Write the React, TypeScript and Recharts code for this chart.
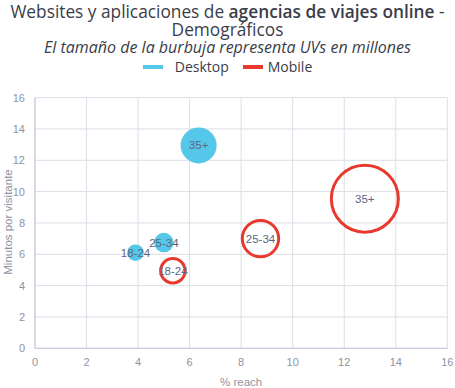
import {
  CartesianGrid,
  Label,
  LabelList,
  Scatter,
  ScatterChart,
  XAxis,
  YAxis,
  ZAxis,
} from "recharts";

const ageGroups = ["18-24", "25-34", "35+"];

const desktopReach = [3.9, 5.0, 6.35];
const desktopMinutes = [6.1, 6.75, 12.95];
const desktopUVs = [0.6, 0.83, 2.82];

const mobileReach = [5.35, 8.75, 12.8];
const mobileMinutes = [4.95, 7.0, 9.55];
const mobileUVs = [1.3, 2.88, 9.76];

const axisTicks = [0, 2, 4, 6, 8, 10, 12, 14, 16];

const DESKTOP = "#55c8ea";
const MOBILE = "#e8392e";
const TICK = { fill: "#8f93a3", fontSize: 11, fontFamily: "Liberation Sans" };
const LABEL_STYLE = { fill: "#5c6680", fontSize: 11.5, fontFamily: "Liberation Sans" };

const desktop = ageGroups.map((age, i) => ({
  age,
  reach: desktopReach[i],
  minutes: desktopMinutes[i],
  uvs: desktopUVs[i],
}));
const mobile = ageGroups.map((age, i) => ({
  age,
  reach: mobileReach[i],
  minutes: mobileMinutes[i],
  uvs: mobileUVs[i],
}));

const line = (top: number, size: number) => ({
  position: "absolute" as const,
  top,
  left: 0,
  width: 455,
  textAlign: "center" as const,
  fontSize: size,
  lineHeight: 1,
  whiteSpace: "nowrap" as const,
});

export default function App() {
  return (
    <div
      style={{
        position: "relative",
        width: 455,
        height: 388,
        background: "#fff",
        fontFamily: "Open Sans",
        color: "#3a3d4a",
      }}
    >
      <style>{"body{margin:0}"}</style>
      <div style={line(3.3, 17.3)}>
        Websites y aplicaciones de <span style={{ fontWeight: 600 }}>agencias de viajes online</span> -
      </div>
      <div style={line(21.3, 17.3)}>Demográficos</div>
      <div style={{ ...line(39.1, 16), fontStyle: "italic" }}>
        El tamaño de la burbuja representa UVs en millones
      </div>
      <div
        style={{
          ...line(60, 14),
          display: "flex",
          justifyContent: "center",
          alignItems: "center",
          height: 14,
        }}
      >
        <span style={{ width: 20, height: 4, background: DESKTOP, marginRight: 12 }} />
        <span style={{ marginRight: 14 }}>Desktop</span>
        <span style={{ width: 20, height: 4, background: MOBILE, marginRight: 5 }} />
        <span>Mobile</span>
      </div>
      <div style={{ position: "absolute", top: 0, left: 0 }}>
        <ScatterChart width={455} height={388} margin={{ top: 97.6, right: 7.7, bottom: 0, left: 0 }}>
          <CartesianGrid stroke="#dcdee6" />
          <XAxis
            type="number"
            dataKey="reach"
            domain={[0, 16]}
            ticks={axisTicks}
            tick={TICK}
            tickLine={false}
            tickMargin={4}
            stroke="#c3c7d3"
            height={39.7}
          >
            <Label value="% reach" position="insideBottom" offset={2} style={{ ...TICK, fontSize: 11.5 }} />
          </XAxis>
          <YAxis
            type="number"
            dataKey="minutes"
            domain={[0, 16]}
            ticks={axisTicks}
            tick={TICK}
            tickLine={false}
            tickMargin={4}
            stroke="#c3c7d3"
            width={35}
          >
            <Label
              content={() => (
                <text
                  x={8}
                  y={222}
                  transform="rotate(-90 8 222)"
                  textAnchor="middle"
                  dominantBaseline="central"
                  style={{ ...TICK, fontSize: 11.5 }}
                >
                  Minutos por visitante
                </text>
              )}
            />
          </YAxis>
          <ZAxis type="number" dataKey="uvs" domain={[0, 10]} range={[0, 3613]} />
          <Scatter data={desktop} fill={DESKTOP} isAnimationActive={false}>
            <LabelList dataKey="age" position="center" style={LABEL_STYLE} />
          </Scatter>
          <Scatter data={mobile} fill="none" stroke={MOBILE} strokeWidth={3} isAnimationActive={false}>
            <LabelList dataKey="age" position="center" style={LABEL_STYLE} />
          </Scatter>
        </ScatterChart>
      </div>
    </div>
  );
}
